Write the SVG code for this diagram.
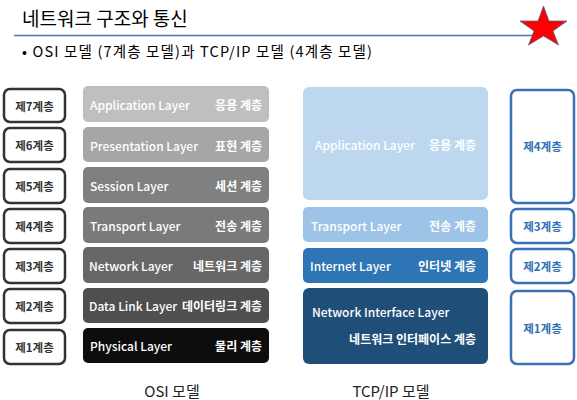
<svg xmlns="http://www.w3.org/2000/svg" width="577" height="400" viewBox="0 0 577 400">
  <style>
    text { font-family: "Noto Sans CJK KR", "Noto Sans", sans-serif; }
    .title { font-size: 19px; fill: #000; }
    .sub { font-size: 14.5px; fill: #000; }
    .cap { font-size: 15px; fill: #222; text-anchor: middle; }
    .lbl { fill: #fff; stroke: #333; stroke-width: 2.5; }
    .lblt { font-size: 11.5px; font-weight: 700; fill: #333; text-anchor: middle; dominant-baseline: central; }
    .blbl { fill: #fff; stroke: #3a70b8; stroke-width: 2.5; }
    .blblt { font-size: 11.5px; font-weight: 700; fill: #2e6fb5; text-anchor: middle; dominant-baseline: central; }
    .en { font-size: 12px; font-weight: 500; fill: #fff; dominant-baseline: central; }
    .ko { font-size: 12px; font-weight: 700; fill: #fff; text-anchor: end; dominant-baseline: central; }
  </style>

  <!-- heading -->
  <text class="title" x="22" y="26">네트워크 구조와 통신</text>
  <line x1="14" y1="35.5" x2="540" y2="35.5" stroke="#4a76b8" stroke-width="1.5"/>
  <polygon points="543.5,6 549,21 567,21 553,31 558.5,45 543.5,36 528.5,45 534,31 520,21 538,21" fill="#ff0000" stroke="#4a6aa0" stroke-width="0.8"/>
  <text class="sub" x="22" y="57" textLength="350" lengthAdjust="spacing">• OSI 모델 (7계층 모델)과 TCP/IP 모델 (4계층 모델)</text>

  <!-- OSI layer numbers -->
  <g id="osi-num-7"><rect class="lbl" x="4" y="89" width="61" height="33" rx="6"/><text class="lblt" x="34.5" y="105.5">제7계층</text></g>
  <g id="osi-num-6"><rect class="lbl" x="4" y="128" width="61" height="34" rx="6"/><text class="lblt" x="34.5" y="145">제6계층</text></g>
  <g id="osi-num-5"><rect class="lbl" x="4" y="169" width="61" height="34" rx="6"/><text class="lblt" x="34.5" y="186">제5계층</text></g>
  <g id="osi-num-4"><rect class="lbl" x="4" y="209" width="61" height="34" rx="6"/><text class="lblt" x="34.5" y="226">제4계층</text></g>
  <g id="osi-num-3"><rect class="lbl" x="4" y="249" width="61" height="34" rx="6"/><text class="lblt" x="34.5" y="266">제3계층</text></g>
  <g id="osi-num-2"><rect class="lbl" x="4" y="289" width="61" height="34" rx="6"/><text class="lblt" x="34.5" y="306">제2계층</text></g>
  <g id="osi-num-1"><rect class="lbl" x="4" y="330" width="61" height="34" rx="6"/><text class="lblt" x="34.5" y="347">제1계층</text></g>

  <!-- OSI layers -->
  <g id="osi-7"><rect x="83" y="86" width="186" height="36" rx="5" fill="#bfbfbf"/><text class="en" x="90" y="104">Application Layer</text><text class="ko" x="262" y="104">응용 계층</text></g>
  <g id="osi-6"><rect x="83" y="127" width="186" height="35" rx="5" fill="#a6a6a6"/><text class="en" x="90" y="145">Presentation Layer</text><text class="ko" x="262" y="145">표현 계층</text></g>
  <g id="osi-5"><rect x="83" y="167" width="186" height="36" rx="5" fill="#808080"/><text class="en" x="90" y="185">Session Layer</text><text class="ko" x="262" y="185">세션 계층</text></g>
  <g id="osi-4"><rect x="83" y="207" width="186" height="36" rx="5" fill="#7a7a7a"/><text class="en" x="90" y="225">Transport Layer</text><text class="ko" x="262" y="225">전송 계층</text></g>
  <g id="osi-3"><rect x="83" y="247" width="186" height="36" rx="5" fill="#676767"/><text class="en" x="89" y="265">Network Layer</text><text class="ko" x="262" y="265">네트워크 계층</text></g>
  <g id="osi-2"><rect x="83" y="288" width="186" height="35" rx="5" fill="#4f4f4f"/><text class="en" x="89" y="305.5">Data Link Layer</text><text class="ko" x="262" y="305.5">데이터링크 계층</text></g>
  <g id="osi-1"><rect x="83" y="328" width="186" height="35" rx="5" fill="#0d0d0d"/><text class="en" x="90" y="345">Physical Layer</text><text class="ko" x="262" y="345">물리 계층</text></g>

  <!-- TCP/IP layers -->
  <g id="tcp-4"><rect x="303" y="87" width="185" height="113" rx="6" fill="#bdd7ee"/><text class="en" x="315" y="144">Application Layer</text><text class="ko" x="476" y="144">응용 계층</text></g>
  <g id="tcp-3"><rect x="303" y="207" width="185" height="35" rx="5" fill="#9dc3e6"/><text class="en" x="311" y="225">Transport Layer</text><text class="ko" x="476" y="225">전송 계층</text></g>
  <g id="tcp-2"><rect x="303" y="248" width="185" height="35" rx="5" fill="#2e75b6"/><text class="en" x="310" y="265.5">Internet Layer</text><text class="ko" x="476" y="265.5">인터넷 계층</text></g>
  <g id="tcp-1"><rect x="303" y="288" width="185" height="76" rx="6" fill="#1f4e79"/><text class="en" x="312" y="311">Network Interface Layer</text><text class="ko" x="476" y="338">네트워크 인터페이스 계층</text></g>

  <!-- TCP/IP layer numbers -->
  <g id="tcp-num-4"><rect class="blbl" x="511" y="90" width="63" height="113" rx="6"/><text class="blblt" x="542.5" y="146">제4계층</text></g>
  <g id="tcp-num-3"><rect class="blbl" x="511" y="209" width="63" height="34" rx="6"/><text class="blblt" x="542.5" y="226">제3계층</text></g>
  <g id="tcp-num-2"><rect class="blbl" x="511" y="249" width="63" height="34" rx="6"/><text class="blblt" x="542.5" y="266">제2계층</text></g>
  <g id="tcp-num-1"><rect class="blbl" x="511" y="291" width="63" height="73" rx="6"/><text class="blblt" x="542.5" y="328">제1계층</text></g>

  <!-- captions -->
  <text class="cap" x="172" y="397">OSI 모델</text>
  <text class="cap" x="391" y="397">TCP/IP 모델</text>
</svg>
